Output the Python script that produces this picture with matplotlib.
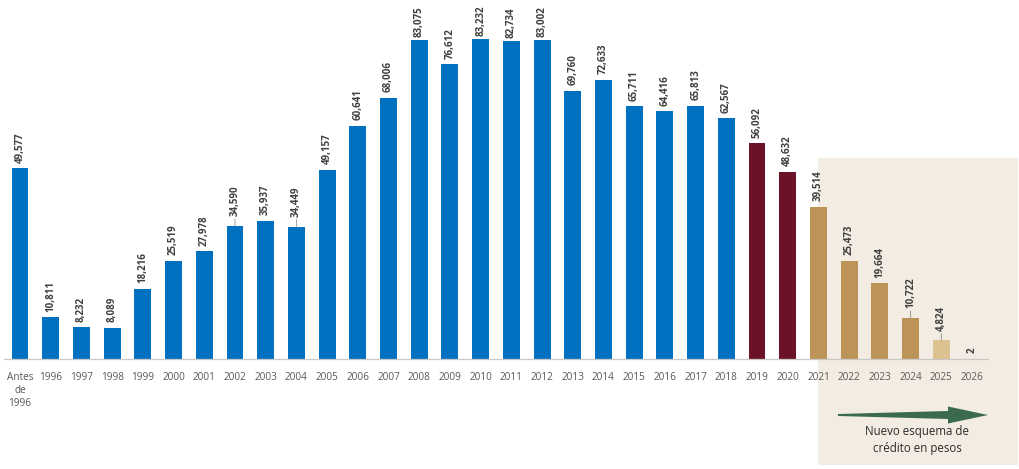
import matplotlib
matplotlib.use("Agg")
import matplotlib.pyplot as plt
from matplotlib.patches import Rectangle, Polygon

categories = ["Antes\nde\n1996"] + [str(y) for y in range(1996, 2027)]
values = [49577, 10811, 8232, 8089, 18216, 25519, 27978, 34590, 35937, 34449,
          49157, 60641, 68006, 83075, 76612, 83232, 82734, 83002, 69760, 72633,
          65711, 64416, 65813, 62567, 56092, 48632, 39514, 25473, 19664, 10722,
          4824, 2]
groups = ["hist"] * 24 + ["transicion"] * 2 + ["nuevo"] * 4 + ["nuevo_claro"] + ["nuevo"]
leader_years = ["2002", "2004", "2024", "2025"]
box_text = "Nuevo esquema de\ncrédito en pesos"

palette = {"hist": "#0070c0", "transicion": "#6b1229",
           "nuevo": "#bd9458", "nuevo_claro": "#dcc191"}

plt.rcParams['font.family'] = ['Open Sans', 'DejaVu Sans']

W, H = 1019, 469
fig = plt.figure(figsize=(W / 100, H / 100), dpi=100)
fig.patch.set_facecolor("white")

# beige box (figure pixel coords)
bx0, by0, bx1, by1 = 818, 158, 1018, 465
fig.patches.append(Rectangle((bx0 / W, 1 - by1 / H), (bx1 - bx0) / W, (by1 - by0) / H,
                             transform=fig.transFigure, facecolor="#f3ece2",
                             edgecolor="none", zorder=0))

ax_l, ax_r, ax_base = 4, 988, 359
ax = fig.add_axes([ax_l / W, 1 - ax_base / H, (ax_r - ax_l) / W, ax_base / H])
ax.set_facecolor("none")
ax.set_zorder(1)

x = list(range(len(values)))
colors = [palette[g] for g in groups]
ax.bar(x, values, width=0.55, color=colors, zorder=2)

ymax = 83232 * ax_base / 320.0
ax.set_ylim(0, ymax)
ax.set_xlim(-0.52, len(values) - 1 + 0.52)

for xi, v, c in zip(x, values, categories):
    lab = f"{v:,}"
    if c in leader_years:
        ax.annotate(lab, (xi, v), xytext=(0, 7), textcoords="offset points",
                    rotation=90, ha="center", va="bottom", fontsize=7,
                    fontweight="bold", color="#404040", annotation_clip=False,
                    arrowprops=dict(arrowstyle="-", color="#8c8c8c", lw=0.6,
                                    shrinkA=0, shrinkB=0))
    else:
        gap = 2.0 if v > 80000 else 4.2
        ax.annotate(lab, (xi, v), xytext=(0, gap), textcoords="offset points",
                    rotation=90, ha="center", va="bottom", fontsize=7,
                    fontweight="bold", color="#404040", annotation_clip=False)

ax.set_xticks(x)
ax.set_xticklabels(categories, fontsize=7.2, color="#595959", linespacing=1.3)
ax.tick_params(axis="x", length=0, pad=9)
ax.set_yticks([])
for s in ["top", "right", "left"]:
    ax.spines[s].set_visible(False)
ax.spines["bottom"].set_color("#c8c8c8")
ax.spines["bottom"].set_linewidth(0.9)

# tapered arrow (figure pixel coords)
ay = 415
pts = [(838, ay - 1), (948, ay - 4), (948, ay - 8.5), (988, ay),
       (948, ay + 8.5), (948, ay + 4), (838, ay + 1)]
fig.patches.append(Polygon([(px / W, 1 - py / H) for px, py in pts], closed=True,
                           transform=fig.transFigure, facecolor="#3b6b4c",
                           edgecolor="none", zorder=3))
fig.text(917 / W, 1 - 440 / H, box_text, ha="center", va="center",
         fontsize=8.3, color="#2b2b2b", linespacing=1.35)

fig.savefig("out.png", dpi=100)
